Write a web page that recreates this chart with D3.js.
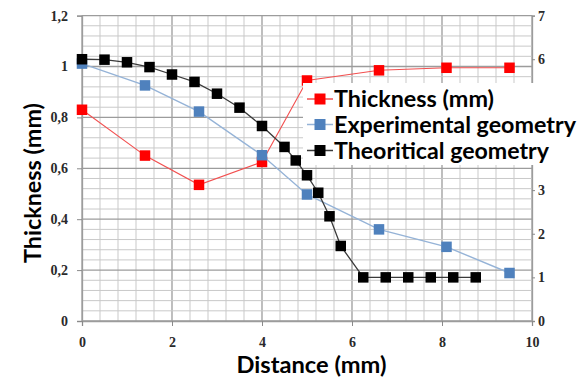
<!DOCTYPE html>
<html>
<head>
<meta charset="utf-8">
<script src="https://cdn.jsdelivr.net/npm/d3@7"></script>
<style>
  html, body { margin: 0; padding: 0; background: #fff; }
  svg { display: block; }
  .tick text { font-family: "Liberation Serif", "DejaVu Serif", serif; font-weight: bold; font-size: 14px; fill: #2a2a2a; }
  .title { font-family: Lato, "Open Sans", sans-serif; font-weight: bold; fill: #000; }
</style>
</head>
<body>
<svg id="chart" width="587" height="379"></svg>
<script>
// Distance along the profile (mm)
const thicknessX = [0, 1.4, 2.6, 4.0, 5.0, 6.6, 8.1, 9.5];
// Measured thickness (mm), left axis
const thicknessY = [0.83, 0.65, 0.535, 0.625, 0.945, 0.985, 0.995, 0.995];

// Experimental geometry, right axis
const experimentalX = [0, 1.4, 2.6, 4.0, 5.0, 6.6, 8.1, 9.5];
const experimentalY = [5.9, 5.4, 4.8, 3.8, 2.9, 2.1, 1.7, 1.1];

// Theoretical geometry, right axis
const theoreticalX = [0, 0.5, 1.0, 1.5, 2.0, 2.5, 3.0, 3.5, 4.0, 4.5, 4.75, 5.0, 5.25, 5.5, 5.75, 6.25, 6.75, 7.25, 7.75, 8.25, 8.75];
const theoreticalY = [6.0, 5.99, 5.93, 5.82, 5.65, 5.48, 5.21, 4.89, 4.47, 3.99, 3.68, 3.34, 2.94, 2.4, 1.72, 1.0, 1.0, 1.0, 1.0, 1.0, 1.0];

// Axis tick values
const xTicks = [0, 2, 4, 6, 8, 10];
const leftTicks = [0, 0.2, 0.4, 0.6, 0.8, 1.0, 1.2];
const rightTicks = [0, 1, 2, 3, 4, 5, 6, 7];
// Right-axis labels left visible beside the legend box
const rightLabels = [0, 1, 2, 3, 6, 7];

const legendLabels = ["Thickness (mm)", "Experimental geometry", "Theoritical geometry"];
const seriesColors = ["#ff0000", "#4f81bd", "#000000"];
const lineColors = ["#f25050", "#95b3d7", "#3a3a3a"];

const svg = d3.select("#chart");
const L = 82, R = 532, T = 15.6, B = 321;

const x = d3.scaleLinear().domain([0, 10]).range([L, R]);
const yL = d3.scaleLinear().domain([0, 1.2]).range([B, T]);
const yR = d3.scaleLinear().domain([0, 7]).range([B, T]);

// Grid: minor every 0.4 mm / 0.04 mm, major at the labelled ticks
const grid = svg.append("g");
const vGrid = d3.range(0, 26).map(i => +(i * 0.4).toFixed(2));
const hGrid = d3.range(0, 31).map(i => +(i * 0.04).toFixed(3));
const isMajorX = v => Math.abs(v / 2 - Math.round(v / 2)) < 1e-6;
const isMajorY = v => Math.abs(v / 0.2 - Math.round(v / 0.2)) < 1e-6;

grid.selectAll("line.v").data(vGrid).join("line")
  .attr("x1", d => x(d)).attr("x2", d => x(d))
  .attr("y1", T).attr("y2", B)
  .attr("stroke", d => isMajorX(d) ? "#9c9c9c" : "#c9c9c9")
  .attr("stroke-width", d => isMajorX(d) ? 1.3 : 1);
grid.selectAll("line.h").data(hGrid).join("line")
  .attr("x1", L).attr("x2", R)
  .attr("y1", d => yL(d)).attr("y2", d => yL(d))
  .attr("stroke", d => isMajorY(d) ? "#9c9c9c" : "#c9c9c9")
  .attr("stroke-width", d => isMajorY(d) ? 1.3 : 1);

// Axes
const fmt = d => String(+d.toFixed(1)).replace(".", ",");
const gLeft = svg.append("g").attr("transform", `translate(${L},0)`)
  .call(d3.axisLeft(yL).tickValues(leftTicks).tickFormat(fmt).tickSize(5).tickPadding(9));
const gRight = svg.append("g").attr("transform", `translate(${R},0)`)
  .call(d3.axisRight(yR).tickValues(rightTicks)
    .tickFormat(d => rightLabels.includes(d) ? String(d) : "")
    .tickSize(3).tickPadding(3));
const gBottom = svg.append("g").attr("transform", `translate(0,${B})`)
  .call(d3.axisBottom(x).tickValues(xTicks).tickFormat(d3.format("d")).tickSize(5).tickPadding(11));
[gLeft, gRight, gBottom].forEach(g => {
  g.select(".domain").attr("stroke", "#9c9c9c").attr("stroke-width", 1.3);
  g.selectAll(".tick line").attr("stroke", "#8a8a8a");
});
gRight.selectAll(".tick text").filter(d => !rightLabels.includes(d)).remove();

// Series
const series = [
  { xs: thicknessX, ys: thicknessY, y: yL, w: 1.1 },
  { xs: experimentalX, ys: experimentalY, y: yR, w: 1.4 },
  { xs: theoreticalX, ys: theoreticalY, y: yR, w: 1.3 }
];
const size = 10.5;
series.forEach((s, i) => {
  const pts = s.xs.map((v, j) => [v, s.ys[j]]);
  const line = d3.line().x(d => x(d[0])).y(d => s.y(d[1]));
  svg.append("path").datum(pts)
    .attr("d", line).attr("fill", "none")
    .attr("stroke", lineColors[i]).attr("stroke-width", s.w);
  svg.append("g").selectAll("rect").data(pts).join("rect")
    .attr("x", d => x(d[0]) - size / 2).attr("y", d => s.y(d[1]) - size / 2)
    .attr("width", size).attr("height", size)
    .attr("fill", seriesColors[i]);
});

// Fit a bold title to a given width
function fitText(sel, width, base) {
  sel.style("font-size", base + "px");
  const w = sel.node().getComputedTextLength();
  sel.style("font-size", (base * width / w).toFixed(2) + "px");
}

// Axis titles
const xt = svg.append("text").attr("class", "title")
  .attr("x", 311.5).attr("y", 372.5).attr("text-anchor", "middle").text("Distance (mm)");
fitText(xt, 150, 22);
const yt = svg.append("text").attr("class", "title")
  .attr("transform", "translate(41,183) rotate(-90)")
  .attr("text-anchor", "middle").text("Thickness (mm)");
fitText(yt, 160, 22);

// Legend
const lg = svg.append("g");
lg.append("rect").attr("x", 303).attr("y", 83).attr("width", 276).attr("height", 82).attr("fill", "#fff");
const rowY = [107, 132.5, 158.5];
const textW = [160, 242, 215];
legendLabels.forEach((lab, i) => {
  const cy = rowY[i] - 8;
  lg.append("line").attr("x1", 307).attr("x2", 333).attr("y1", cy).attr("y2", cy)
    .attr("stroke", lineColors[i]).attr("stroke-width", 1.5);
  lg.append("rect").attr("x", 320 - 5.5).attr("y", cy - 5.5).attr("width", 11).attr("height", 11)
    .attr("fill", seriesColors[i]);
  const t = lg.append("text").attr("class", "title").attr("x", 334).attr("y", rowY[i]).text(lab);
  fitText(t, textW[i], 22);
});
</script>
</body>
</html>
